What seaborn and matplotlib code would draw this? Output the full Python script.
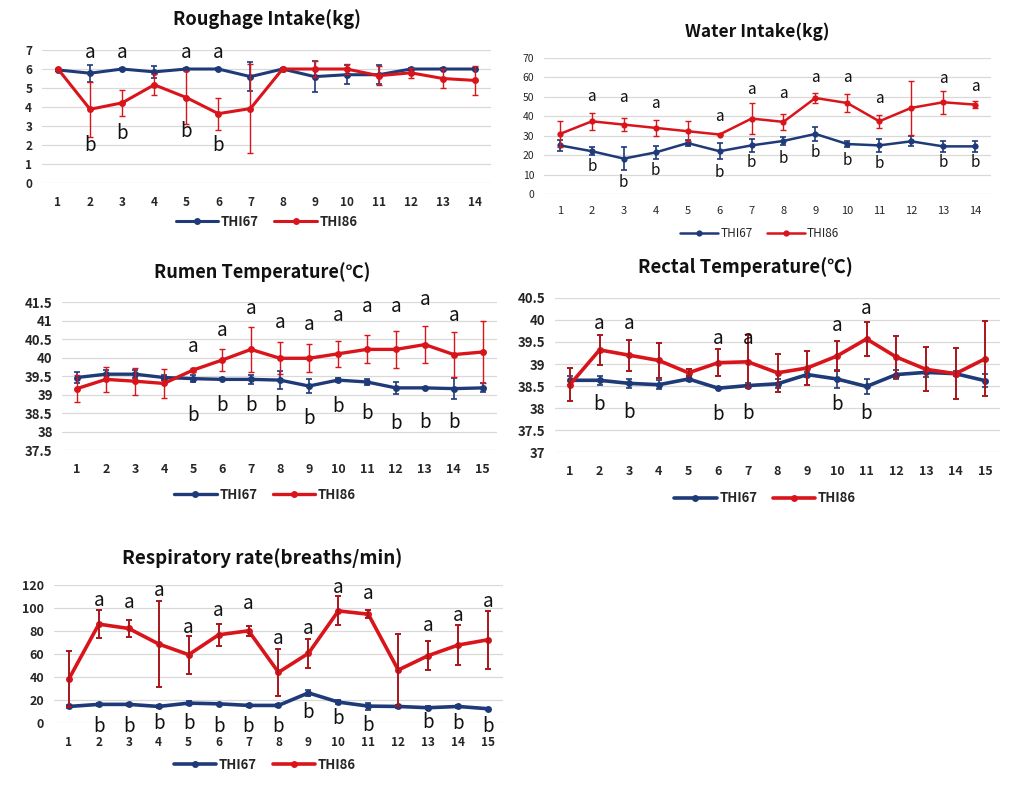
import numpy as np
import pandas as pd
import matplotlib
matplotlib.use("Agg")
import matplotlib.pyplot as plt
from matplotlib.lines import Line2D
import seaborn as sns

# ---------------- data ----------------
groups = ["THI67", "THI86"]

# Roughage intake (kg), days 1-14
rough_days = list(range(1, 15))
rough_67 = [5.95, 5.78, 6.0, 5.85, 6.0, 6.0, 5.6, 6.0, 5.6, 5.7, 5.7, 6.0, 6.0, 6.0]
rough_67_err = [0.05, 0.45, 0.05, 0.3, 0.05, 0.05, 0.75, 0.05, 0.8, 0.5, 0.5, 0.05, 0.05, 0.05]
rough_86 = [6.0, 3.88, 4.22, 5.17, 4.5, 3.65, 3.92, 6.0, 6.0, 6.0, 5.65, 5.8, 5.5, 5.4]
rough_86_err = [0.05, 1.45, 0.68, 0.55, 1.4, 0.85, 2.35, 0.05, 0.4, 0.25, 0.5, 0.25, 0.5, 0.78]
rough_a = [(2, 6.85), (3, 6.85), (5, 6.85), (6, 6.85)]
rough_b = [(2, 1.95), (3, 2.6), (5, 2.7), (6, 2.0)]

# Water intake (kg), days 1-14
water_days = list(range(1, 15))
water_67 = [25.0, 22.0, 18.2, 21.4, 26.2, 22.0, 25.0, 27.3, 30.9, 25.7, 25.0, 27.1, 24.5, 24.5]
water_67_err = [3.0, 2.0, 6.0, 3.5, 1.5, 4.0, 3.5, 2.0, 3.5, 1.5, 3.5, 2.5, 3.0, 3.0]
water_86 = [30.9, 37.4, 35.7, 34.0, 32.3, 30.6, 38.8, 37.1, 49.4, 46.8, 37.4, 44.3, 47.2, 46.0]
water_86_err = [6.5, 4.5, 3.5, 4.0, 5.0, 0.5, 8.0, 4.0, 2.5, 4.5, 3.5, 14.0, 6.0, 2.0]
water_a = [(2, 50.0), (3, 49.5), (4, 46.6), (6, 40.0), (7, 54.0), (8, 51.7), (9, 59.7),
           (10, 59.7), (11, 49.0), (13, 59.4), (14, 55.5)]
water_b = [(2, 14.2), (3, 6.0), (4, 12.2), (6, 10.8), (7, 16.0), (8, 18.5), (9, 21.4),
           (10, 17.0), (11, 15.6), (13, 16.0), (14, 16.0)]

# Rumen temperature (C), days 1-15
rumen_days = list(range(1, 16))
rumen_67 = [39.46, 39.55, 39.55, 39.46, 39.43, 39.41, 39.41, 39.39, 39.23, 39.39, 39.34,
            39.18, 39.18, 39.16, 39.18]
rumen_67_err = [0.14, 0.12, 0.1, 0.08, 0.1, 0.03, 0.13, 0.25, 0.18, 0.05, 0.07, 0.17,
                0.03, 0.28, 0.12]
rumen_86 = [39.16, 39.41, 39.36, 39.3, 39.66, 39.93, 40.22, 39.98, 39.98, 40.1, 40.22,
            40.22, 40.35, 40.08, 40.15]
rumen_86_err = [0.36, 0.34, 0.36, 0.4, 0.05, 0.3, 0.6, 0.43, 0.38, 0.35, 0.38, 0.49,
                0.51, 0.6, 0.85]
rumen_a = [(5, 40.3), (6, 40.74), (7, 41.32), (8, 40.96), (9, 40.9), (10, 41.14),
           (11, 41.37), (12, 41.37), (13, 41.56), (14, 41.14)]
rumen_b = [(5, 38.44), (6, 38.7), (7, 38.71), (8, 38.7), (9, 38.35), (10, 38.67),
           (11, 38.49), (12, 38.22), (13, 38.25), (14, 38.25)]

# Rectal temperature (C), days 1-15
rectal_days = list(range(1, 16))
rectal_67 = [38.63, 38.63, 38.56, 38.53, 38.66, 38.45, 38.51, 38.55, 38.76, 38.66, 38.49,
             38.76, 38.81, 38.78, 38.62]
rectal_67_err = [0.1, 0.1, 0.11, 0.1, 0.05, 0.02, 0.05, 0.1, 0.05, 0.2, 0.18, 0.1, 0.1,
                 0.05, 0.15]
rectal_86 = [38.53, 39.32, 39.2, 39.08, 38.8, 39.03, 39.05, 38.8, 38.91, 39.18, 39.57,
             39.16, 38.88, 38.78, 39.12]
rectal_86_err = [0.37, 0.35, 0.35, 0.4, 0.08, 0.3, 0.6, 0.43, 0.38, 0.35, 0.38, 0.48,
                 0.5, 0.58, 0.85]
rectal_a = [(2, 39.93), (3, 39.91), (6, 39.57), (7, 39.58), (10, 39.87), (11, 40.27)]
rectal_b = [(2, 38.07), (3, 37.9), (6, 37.86), (7, 37.88), (10, 38.07), (11, 37.88)]

# Respiratory rate (breaths/min), days 1-15
resp_days = list(range(1, 16))
resp_67 = [14.4, 16.2, 16.2, 14.4, 17.3, 16.7, 15.3, 15.3, 26.2, 18.2, 14.7, 14.4, 13.3,
           14.4, 12.4]
resp_67_err = [1.5, 1.5, 1.5, 1.0, 1.5, 1.0, 1.5, 1.5, 2.5, 1.5, 3.0, 1.5, 1.5, 1.5, 1.0]
resp_86 = [38.4, 86.0, 82.2, 68.7, 59.4, 76.7, 80.2, 44.1, 60.6, 97.5, 94.6, 46.1, 58.6,
           67.8, 72.4]
resp_86_err = [24.5, 12.4, 7.0, 37.7, 16.6, 9.4, 4.3, 20.5, 12.7, 12.7, 3.5, 31.0, 12.3,
               17.0, 25.0]
resp_a = [(2, 106.2), (3, 104.7), (4, 114.8), (5, 83.0), (6, 97.5), (7, 104.0), (8, 73.5),
          (9, 82.5), (10, 117.7), (11, 112.5), (13, 85.0), (14, 93.2), (15, 105.6)]
resp_b = [(2, -2.6), (3, -2.6), (4, -0.6), (5, -0.6), (6, -2.6), (7, -2.6), (8, -2.6),
          (9, 9.5), (10, 3.7), (11, -2.0), (13, 0.3), (14, -0.6), (15, -2.6)]

# ---------------- style ----------------
sns.set_theme(style="white")
plt.rcParams["font.family"] = ["Noto Sans CJK KR", "DejaVu Sans"]

NAVY = "#1F3A78"
RED = "#D9141B"
DARKRED = "#A8161C"

fig = plt.figure(figsize=(10.16, 7.94), dpi=100)


def panel(rect, title, days, v67, e67, v86, e86, ylim, yticks, ytl, a_pts, b_pts,
          title_xy, leg_xy, tick_fs=9, ytick_fs=9, title_fs=12, letter_fs=13,
          lw=2.2, ms=5, red_err=RED, red_elw=1.0, blurry=False, legend_fs=9.5):
    ax = fig.add_axes(rect)
    df = pd.DataFrame({
        "day": list(days) * 2,
        "value": list(v67) + list(v86),
        "group": [groups[0]] * len(days) + [groups[1]] * len(days),
    })
    sns.lineplot(data=df, x="day", y="value", hue="group",
                 palette={groups[0]: NAVY, groups[1]: RED},
                 marker="o", markersize=ms, markeredgewidth=0, linewidth=lw,
                 errorbar=None, legend=False, ax=ax, zorder=3)
    ax.errorbar(days, v67, yerr=e67, fmt="none", ecolor=NAVY, elinewidth=1.2,
                capsize=2.5, capthick=1.2, zorder=2.5)
    ax.errorbar(days, v86, yerr=e86, fmt="none", ecolor=red_err, elinewidth=red_elw,
                capsize=2.5, capthick=red_elw, zorder=3.5)
    ax.set_xlim(0.5, len(days) + 0.5)
    ax.set_ylim(*ylim)
    ax.set_xticks(days)
    ax.set_xticklabels([str(d) for d in days], fontsize=tick_fs,
                       fontweight="normal" if blurry else "bold")
    ax.set_yticks(yticks)
    ax.set_yticklabels(ytl, fontsize=ytick_fs,
                       fontweight="normal" if blurry else "bold")
    ax.tick_params(axis="both", length=0, pad=7)
    ax.tick_params(axis="x", pad=9)
    ax.yaxis.grid(True, color="#D9D9D9", linewidth=0.9)
    ax.xaxis.grid(False)
    for s in ax.spines.values():
        s.set_visible(False)
    ax.set_xlabel("")
    ax.set_ylabel("")
    for x, y in a_pts:
        ax.text(x, y, "a", ha="center", va="center", fontsize=letter_fs, color="#111111",
                clip_on=False, zorder=5)
    for x, y in b_pts:
        ax.text(x, y, "b", ha="center", va="center", fontsize=letter_fs, color="#111111",
                clip_on=False, zorder=5)
    ax.text(title_xy[0], title_xy[1], title, transform=ax.transAxes, ha="center",
            va="center", fontsize=title_fs, fontweight="bold", color="#111111")
    handles = [Line2D([0], [0], color=NAVY, lw=lw, marker="o", markersize=ms,
                      markeredgewidth=0),
               Line2D([0], [0], color=RED, lw=lw, marker="o", markersize=ms,
                      markeredgewidth=0)]
    ax.legend(handles, groups, loc="center", bbox_to_anchor=leg_xy, ncol=2,
              frameon=False, handlelength=3.2, columnspacing=1.2, handletextpad=0.2,
              prop={"size": legend_fs, "weight": "normal" if blurry else "bold"})
    return ax


panel([0.0413, 0.7695, 0.442, 0.1675], "Roughage Intake(kg)",
      rough_days, rough_67, rough_67_err, rough_86, rough_86_err,
      (0, 7), list(range(0, 8)), [str(v) for v in range(0, 8)], rough_a, rough_b,
      (0.5, 1.23), (0.5, -0.29), tick_fs=8.5, ytick_fs=8.5, title_fs=13.2, letter_fs=13.5)

panel([0.5354, 0.7557, 0.44, 0.1713], "Water Intake(kg)",
      water_days, water_67, water_67_err, water_86, water_86_err,
      (0, 70), list(range(0, 71, 10)), [str(v) for v in range(0, 71, 10)],
      water_a, water_b, (0.477, 1.19), (0.483, -0.294), tick_fs=8, ytick_fs=7.5,
      title_fs=12.5, letter_fs=11, lw=1.8, ms=4.5, blurry=True, legend_fs=8.5)

panel([0.0615, 0.4332, 0.428, 0.1864], "Rumen Temperature(℃)",
      rumen_days, rumen_67, rumen_67_err, rumen_86, rumen_86_err,
      (37.5, 41.5), [37.5, 38, 38.5, 39, 39.5, 40, 40.5, 41, 41.5],
      ["37.5", "38", "38.5", "39", "39.5", "40", "40.5", "41", "41.5"],
      rumen_a, rumen_b, (0.459, 1.2), (0.466, -0.304), tick_fs=9, ytick_fs=9.5,
      title_fs=13, letter_fs=13.5, lw=2.4)

panel([0.5463, 0.4307, 0.438, 0.194], "Rectal Temperature(℃)",
      rectal_days, rectal_67, rectal_67_err, rectal_86, rectal_86_err,
      (37, 40.5), [37, 37.5, 38, 38.5, 39, 39.5, 40, 40.5],
      ["37", "37.5", "38", "38.5", "39", "39.5", "40", "40.5"],
      rectal_a, rectal_b, (0.427, 1.2), (0.472, -0.3), tick_fs=9, ytick_fs=9.5,
      title_fs=13.3, letter_fs=13.5, lw=2.6, red_err=DARKRED, red_elw=1.4)

panel([0.0531, 0.0894, 0.442, 0.1738], "Respiratory rate(breaths/min)",
      resp_days, resp_67, resp_67_err, resp_86, resp_86_err,
      (0, 120), list(range(0, 121, 20)), [str(v) for v in range(0, 121, 20)],
      resp_a, resp_b, (0.463, 1.196), (0.47, -0.304), tick_fs=8.5, ytick_fs=9,
      title_fs=13.5, letter_fs=13.5, lw=2.6, red_err=DARKRED, red_elw=1.4)

fig.savefig("out.png", dpi=100, facecolor="white")
